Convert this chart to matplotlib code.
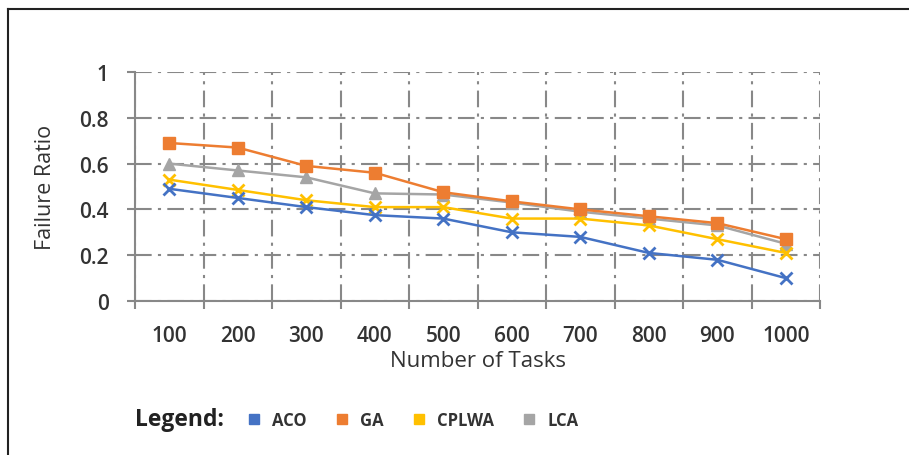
import numpy as np
import matplotlib
matplotlib.use("Agg")
import matplotlib.pyplot as plt
from matplotlib.lines import Line2D

tasks = ["100", "200", "300", "400", "500", "600", "700", "800", "900", "1000"]
aco = [0.49, 0.45, 0.41, 0.375, 0.36, 0.30, 0.28, 0.21, 0.18, 0.10]
ga = [0.69, 0.67, 0.59, 0.56, 0.475, 0.435, 0.40, 0.37, 0.34, 0.27]
cplwa = [0.53, 0.485, 0.44, 0.41, 0.41, 0.36, 0.36, 0.33, 0.27, 0.21]
lca = [0.60, 0.57, 0.54, 0.47, 0.465, 0.43, 0.39, 0.36, 0.33, 0.25]

plt.rcParams['font.family'] = ['Open Sans', 'DejaVu Sans']

fig = plt.figure(figsize=(9.09, 4.56), dpi=100)
ax = fig.add_axes([135/909, 1-302/456, (820-135)/909, (302-73)/456])

x = np.arange(len(tasks))
ax.plot(x, lca, color='#A5A5A5', lw=1.8, marker='^', ms=8, label='LCA', zorder=3)
ax.plot(x, cplwa, color='#FFC000', lw=1.8, marker='x', ms=8, mew=2, label='CPLWA', zorder=3)
ax.plot(x, ga, color='#ED7D31', lw=1.8, marker='s', ms=8, label='GA', zorder=4)
ax.plot(x, aco, color='#4472C4', lw=1.8, marker='x', ms=8, mew=2, label='ACO', zorder=5)

ax.set_xlim(-0.5, len(tasks) - 0.5)
ax.set_ylim(0, 1)
ax.set_xticks(x)
ax.set_xticklabels(tasks)
ax.set_xticks(np.arange(-0.5, len(tasks)), minor=True)
ax.set_yticks(np.arange(0, 1.01, 0.2))
ax.set_yticklabels(['0', '0.2', '0.4', '0.6', '0.8', '1'])

ax.tick_params(axis='x', which='major', length=0, labelsize=15, pad=17, colors='#333333')
ax.tick_params(axis='x', which='minor', length=6, width=1.5, color='#888888')
ax.tick_params(axis='y', length=6, width=1.5, color='#888888', labelsize=15, pad=13, labelcolor='#333333')
for lbl in ax.get_xticklabels() + ax.get_yticklabels():
    lbl.set_fontweight('semibold')

dash = (0, (8, 3, 1.5, 3))
ax.grid(True, axis='y', which='major', color='#888888', lw=1.5, linestyle=dash)
ax.grid(True, axis='x', which='minor', color='#888888', lw=1.5, linestyle=dash)
ax.grid(False, axis='x', which='major')

for s in ['top', 'right']:
    ax.spines[s].set_visible(False)
for s in ['left', 'bottom']:
    ax.spines[s].set_color('#888888')
    ax.spines[s].set_linewidth(1.5)

ax.set_xlabel('Number of Tasks', fontsize=16, color='#333333')
ax.xaxis.set_label_coords(0.5, -0.215)
ax.set_ylabel('Failure Ratio', fontsize=15.5, color='#333333', va='center')
ax.yaxis.set_label_coords(-0.131, 0.5)

# legend at the bottom
fig.text(135/909, 1-420/456, 'Legend:', fontsize=16.5, fontweight='bold', color='#222222', va='center')
handles = [Line2D([], [], color=c, marker='s', ls='', ms=7) for c in ['#4472C4', '#ED7D31', '#FFC000', '#A5A5A5']]
fig.legend(handles, ['ACO', 'GA', 'CPLWA', 'LCA'], loc='center left',
           bbox_to_anchor=(232/909, 1-421/456), ncol=4, frameon=False,
           handlelength=0.8, handletextpad=0.7, columnspacing=1.7,
           prop={'size': 12, 'weight': 'bold'}, labelcolor='#333333')

# image border lines
fig.add_artist(Line2D([8/909, 8/909], [0, 1-10/456], transform=fig.transFigure, color='#222222', lw=1.5))
fig.add_artist(Line2D([8/909, 1], [1-10/456, 1-10/456], transform=fig.transFigure, color='#222222', lw=1.5))

fig.savefig('out.png', dpi=100)
